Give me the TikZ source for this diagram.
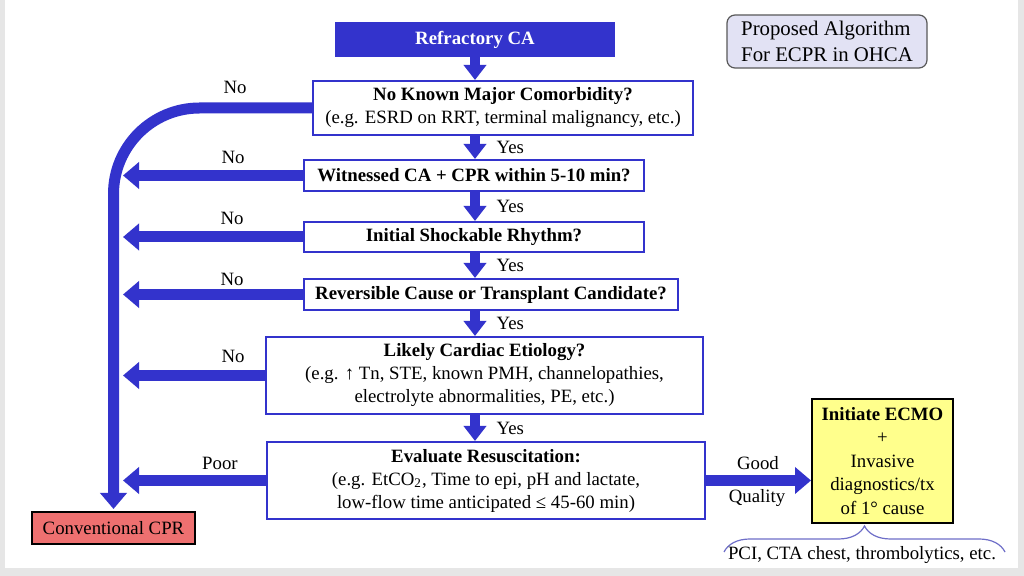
\documentclass[tikz,border=0pt]{standalone}
\usepackage{fontspec}
\setmainfont{Liberation Serif}
\usetikzlibrary{arrows.meta,positioning,decorations.pathreplacing}
\definecolor{flowblue}{RGB}{51,51,204}
\definecolor{notefill}{RGB}{226,226,244}
\definecolor{ecmoyellow}{RGB}{255,255,140}
\definecolor{cprred}{RGB}{238,112,112}
\definecolor{bracecol}{RGB}{110,110,200}
\definecolor{framegray}{RGB}{230,230,230}

\begin{document}
\begin{tikzpicture}[x=0.5pt, y=-0.5pt, every node/.style={font=\fontsize{9.4}{11.5}\selectfont, text=black}]
\tikzset{
    qbox/.style={draw=flowblue, line width=1pt, fill=white, inner sep=0pt, align=center},
    bluearrow/.style={flowblue, line width=5.5pt, -{Triangle[length=8pt, width=13pt]}},
    downarrow/.style={flowblue, line width=5pt, -{Triangle[length=7.5pt, width=11pt]}},
    labelnode/.style={inner sep=1pt}
}

% page
\fill[framegray] (0,0) rectangle (1024,576);
\fill[white] (5,0) rectangle (1018,568);
\useasboundingbox (0,0) rectangle (1024,576);

\node[draw=flowblue, fill=flowblue, text=white, line width=1pt, minimum width=139pt, minimum height=16.5pt, inner sep=0pt, font=\fontsize{9.4}{11.5}\selectfont\bfseries] (start) at (475,39.5) {Refractory CA};
\node[draw=black!65, fill=notefill, rounded corners=4pt, line width=0.6pt, minimum width=100pt, minimum height=26.5pt, inner sep=0pt, align=left, font=\fontsize{10.4}{13}\selectfont] (note) at (827,41.5) {Proposed Algorithm\\For ECPR in OHCA};

\node[qbox, minimum width=190pt, minimum height=27pt] (q1) at (503,108) {\textbf{No Known Major Comorbidity?}\\(e.g. ESRD on RRT, terminal malignancy, etc.)};
\node[qbox, minimum width=170pt, minimum height=15.5pt, font=\fontsize{9.4}{11.5}\selectfont\bfseries] (q2) at (474,175.5) {Witnessed CA + CPR within 5-10 min?};
\node[qbox, minimum width=170pt, minimum height=15pt, font=\fontsize{9.4}{11.5}\selectfont\bfseries] (q3) at (474,237) {Initial Shockable Rhythm?};
\node[qbox, minimum width=187pt, minimum height=15.5pt, font=\fontsize{9.4}{11.5}\selectfont\bfseries] (q4) at (491,294.5) {Reversible Cause or Transplant Candidate?};
\node[qbox, minimum width=218.5pt, minimum height=38.5pt] (q5) at (484.5,375.5) {\textbf{Likely Cardiac Etiology?}\\(e.g. ↑ Tn, STE, known PMH, channelopathies,\\electrolyte abnormalities, PE, etc.)};
\node[qbox, minimum width=219pt, minimum height=38.5pt] (q6) at (486,480.5) {\textbf{Evaluate Resuscitation:}\\(e.g. EtCO\textsubscript{2}, Time to epi, pH and lactate,\\low-flow time anticipated ≤ 45-60 min)};

\node[draw=black, fill=ecmoyellow, line width=1pt, minimum width=70.5pt, minimum height=62pt, inner sep=0pt, align=center, font=\fontsize{9.4}{11.75}\selectfont] (ecmo) at (882.5,461) {\textbf{Initiate ECMO}\\+\\Invasive\\diagnostics/tx\\of 1° cause};
\node[draw=black, fill=cprred, line width=1pt, minimum width=81.5pt, minimum height=16pt, inner sep=0pt] (cpr) at (113.5,528) {Conventional CPR};

% Yes path
\draw[downarrow] (start.south) -- (start.south |- q1.north);
\draw[downarrow] (q1.south -| start) -- node[right, xshift=5pt] {Yes} (q2.north -| start);
\draw[downarrow] (q2.south -| start) -- node[right, xshift=5pt] {Yes} (q3.north -| start);
\draw[downarrow] (q3.south -| start) -- node[right, xshift=5pt] {Yes} (q4.north -| start);
\draw[downarrow] (q4.south -| start) -- node[right, xshift=5pt] {Yes} (q5.north -| start);
\draw[downarrow] (q5.south -| start) -- node[right, xshift=5pt] {Yes} (q6.north -| start);

% No path
\coordinate (noend) at (123,0);
\draw[bluearrow, rounded corners=43pt, shorten >=1pt] (q1.west) -| (cpr.north);
\draw[bluearrow] (q2.west) -- (q2.west -| noend);
\draw[bluearrow] (q3.west) -- (q3.west -| noend);
\draw[bluearrow] (q4.west) -- (q4.west -| noend);
\draw[bluearrow] (q5.west) -- (q5.west -| noend);
\draw[bluearrow] (q6.west) -- (q6.west -| noend);
\node[labelnode] (no1) at (235,87) {No};
\node[labelnode] (no2) at (233,157) {No};
\node[labelnode] (no3) at (232,218) {No};
\node[labelnode] (no4) at (232,279) {No};
\node[labelnode] (no5) at (233,356) {No};
\node[labelnode] (poor) at (220,463) {Poor};

\draw[bluearrow] (q6.east) -- (q6.east -| ecmo.west);
\node[labelnode] (good) at (758,463) {Good};
\node[labelnode] (quality) at (757,498) {Quality};

% brace under ECMO
\coordinate (bl) at (724,552);
\coordinate (br) at (1005,552);
\draw[bracecol, line width=0.6pt, decorate, decoration={brace, amplitude=13pt}] (bl) -- (br);
\node[labelnode] (pci) at (862,555) {PCI, CTA chest, thrombolytics, etc.};

\end{tikzpicture}
\end{document}
